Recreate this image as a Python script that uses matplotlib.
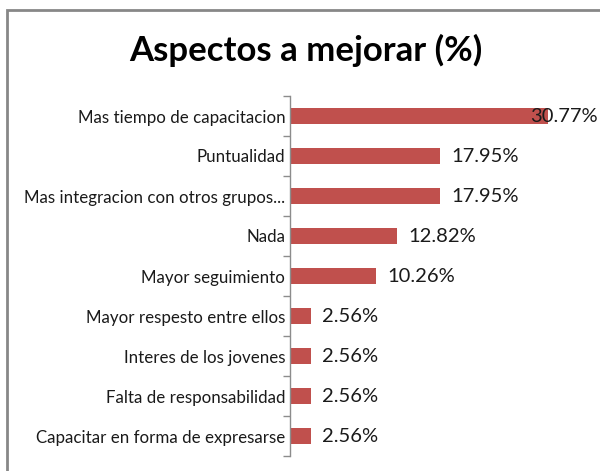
import matplotlib
matplotlib.use("Agg")
import matplotlib.pyplot as plt
from matplotlib.patches import Rectangle

categories = [
    "Mas tiempo de capacitacion",
    "Puntualidad",
    "Mas integracion con otros grupos...",
    "Nada",
    "Mayor seguimiento",
    "Mayor respesto entre ellos",
    "Interes de los jovenes",
    "Falta de responsabilidad",
    "Capacitar en forma de expresarse",
]
values = [30.77, 17.95, 17.95, 12.82, 10.26, 2.56, 2.56, 2.56, 2.56]
title = "Aspectos a mejorar (%)"

W, H = 600, 471
fig = plt.figure(figsize=(W / 100, H / 100), dpi=100)
fig.patch.set_facecolor("white")

# chart border (only top/left visible in reference)
fig.add_artist(Rectangle((7 / W, -0.1), 1.2, 1.1 - 10 / H, transform=fig.transFigure,
                         fill=False, edgecolor="#878787", linewidth=2))

ax_left, ax_right = 290 / W, 583 / W
ax_top, ax_bot = 1 - 96 / H, 1 - 456 / H
ax = fig.add_axes([ax_left, ax_bot, ax_right - ax_left, ax_top - ax_bot])

n = len(categories)
ypos = list(range(n))
ax.barh(ypos, values, height=0.4, color="#C0504D", zorder=2)
ax.set_xlim(0, 35)
ax.set_ylim(n - 0.5, -0.5)

for s in ["top", "right", "bottom"]:
    ax.spines[s].set_visible(False)
ax.spines["left"].set_color("#8c8c8c")
ax.spines["left"].set_linewidth(1)
ax.set_xticks([])
ax.set_yticks(ypos)
ax.set_yticklabels(categories, fontsize=12.2, family="Lato", color="#1a1a1a")
ax.tick_params(axis="y", which="major", length=0, pad=3.5)
ax.set_yticks([i - 0.5 for i in range(n + 1)], minor=True)
ax.tick_params(axis="y", which="minor", length=5, color="#8c8c8c", width=1)

vmax = max(values)
for y, v in zip(ypos, values):
    off = -17 if v == vmax else 11
    ax.annotate(f"{v:.2f}%", (v, y), xytext=(off, 0), textcoords="offset pixels",
                ha="left", va="center", fontsize=14.5, family="Lato", color="#1a1a1a", zorder=3,
                annotation_clip=False)

fig.text(306 / W, 1 - 50 / H, title, ha="center", va="center", fontsize=25,
         fontweight="bold", family="Lato", color="black")

fig.savefig("out.png", dpi=100)
